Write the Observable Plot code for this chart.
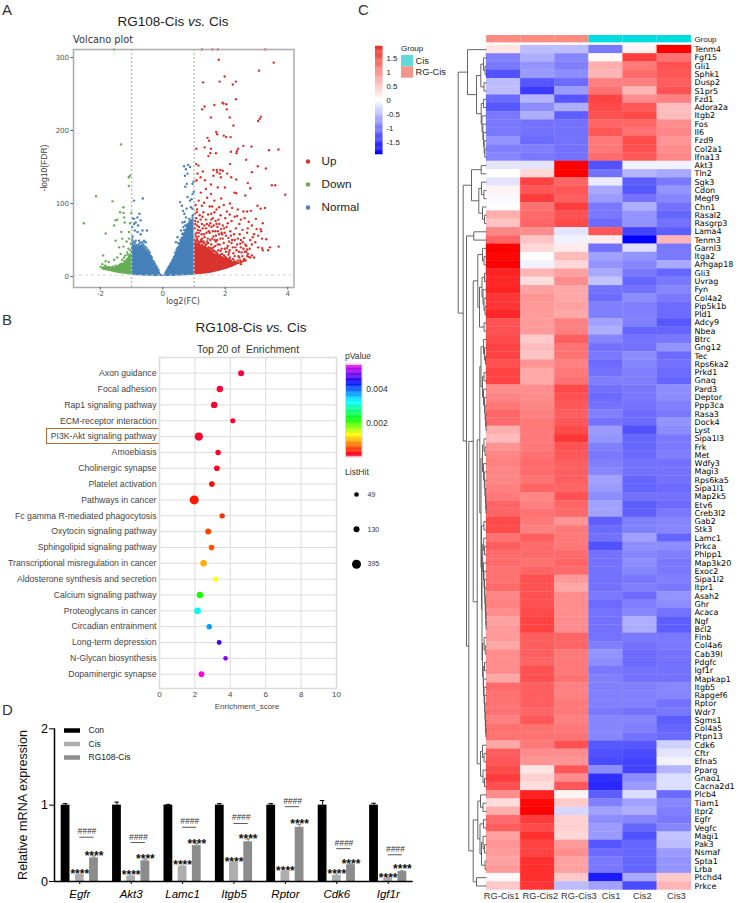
<!DOCTYPE html>
<html><head><meta charset="utf-8">
<script src="https://cdn.jsdelivr.net/npm/d3@7"></script>
<script src="https://cdn.jsdelivr.net/npm/@observablehq/plot@0.6"></script>
<style>
html,body{margin:0;padding:0;background:#fff}
#root{position:relative;width:740px;height:903px;overflow:hidden;font-family:"Liberation Sans",Arial,sans-serif}
#root svg{position:absolute;overflow:visible;background:transparent}
.t{position:absolute;white-space:pre;line-height:1}
</style></head><body><div id="root"></div>
<script>
/* ---------- A: volcano ---------- */
const upPoints=[[1.25,311],[1.59,311],[1.76,311],[3.28,311],[1.79,297],[3.55,293],[3.08,282],[1.98,274],[1.29,266],[1.82,267],[2.34,267],[2.24,263],[2.34,243],[1.94,237],[2.03,236],[1.91,238],[1.34,233],[1.26,229],[1.65,235],[2.05,229],[1.54,218],[2.14,218],[3.14,219],[3.10,216],[3.05,213],[2.26,207],[1.71,198],[1.74,195],[1.95,193],[2.17,191],[1.43,190],[1.48,186],[2.03,191],[2.84,178],[2.58,179],[2.41,175],[1.07,175],[1.34,177],[1.54,175],[2.37,172],[3.40,173],[3.70,174],[2.18,171],[2.36,169],[1.52,169],[1.70,169],[1.46,165],[2.67,160],[2.15,154],[3.04,151],[3.30,148],[1.07,154],[1.14,152],[1.28,144],[1.11,141],[2.85,143],[1.62,146],[1.73,146],[1.84,146],[1.92,145],[1.74,143],[2.06,141],[2.19,136],[2.35,133],[1.82,141],[1.62,138],[1.86,136],[1.35,132],[1.21,136],[1.01,130],[1.08,132],[1.54,126],[2.72,128],[2.80,121],[3.49,125],[3.60,125],[3.92,112],[2.29,115],[2.35,114],[2.64,111],[1.99,122],[1.76,122],[1.38,120],[1.22,115],[1.54,113],
[1.05,98],[1.1,92],[1.15,104],[1.25,97],[1.32,101],[1.42,108],[1.5,96],[1.58,96],[1.65,104],[1.72,92],[1.8,95],[1.87,107],[1.95,98],[2.05,89],[2.15,100],[2.22,94],[2.4,92],[2.58,89],[2.7,89],[2.82,90],[3.03,97],[3.13,93],[3.27,94],
[1.02,86],[1.07,80],[1.12,75],[1.18,84],[1.25,72],[1.3,88],[1.38,78],[1.45,85],[1.52,73],[1.6,80],[1.65,88],[1.72,72],[1.78,78],[1.85,84],[1.92,70],[2.0,80],[2.08,73],[2.14,85],[2.2,76],[2.3,82],[2.38,83],[2.45,72],[2.5,78],[2.62,80],[2.75,75],[2.85,70],[2.98,79],[3.2,73],[1.55,86],[1.1,70],
[1.02,66],[1.08,60],[1.14,55],[1.2,63],[1.26,52],[1.32,58],[1.38,66],[1.44,52],[1.5,60],[1.56,68],[1.62,55],[1.68,62],[1.74,50],[1.8,58],[1.86,65],[1.92,52],[1.98,60],[2.04,68],[2.1,53],[2.16,62],[2.22,50],[2.28,58],[2.34,66],[2.4,52],[2.46,58],[2.55,64],[2.6,53],[2.7,60],[2.8,50],[2.72,66],[2.92,58],[3.0,65],[3.05,56],[3.13,65],[3.15,62],[3.17,52],[3.31,51],[2.88,54],[2.5,50],
[1.05,48],[1.15,45],[1.25,48],[1.35,42],[1.45,46],[1.55,44],[1.62,40],[1.7,48],[1.78,36],[1.82,44],[1.88,38],[1.95,46],[2.02,34],[2.08,42],[2.14,36],[2.2,46],[2.26,32],[2.32,40],[2.38,44],[2.44,34],[2.5,40],[2.56,47],[2.62,34],[2.67,42],[2.72,31],[2.78,38],[2.85,44],[2.96,47],[3.05,40],[3.18,39],[3.2,36],[3.37,36],[3.43,40],[3.71,41],[2.67,34],[1.6,36],[1.72,33],[1.9,31],[2.1,30],
[1.8,28],[1.9,25],[2.0,27],[2.15,26],[2.25,24],[2.3,28],[2.4,22],[2.45,26],[2.5,20],[2.55,28],[2.6,24],[2.65,22],[2.7,28],[2.75,27],[2.8,26],[2.85,29],[2.92,26],[2.5,17],[2.35,19],[2.2,19],
[1.04,72],[1.06,55],[1.1,50],[1.12,64],[1.16,68],[1.22,50],[1.24,58],[1.28,66],[1.3,48],[1.34,54],[1.4,60],[1.42,48],[1.48,70],[1.52,50],[1.58,52],[1.6,62],[1.66,50],[1.7,56],[1.76,62],[1.84,52],[1.9,58],
[1.03,58],[1.09,52],[1.13,48],[1.19,47],[1.27,44],[1.33,46],[1.39,44],[1.47,40],[1.53,39],[1.57,38],[1.64,35],[1.69,34],[1.75,31],[1.83,30],[1.88,27],[1.96,29],[2.04,25],[2.12,24],[2.18,22],[2.28,21],[2.33,20],[2.42,19],[2.48,22],[2.57,21],[2.62,23],
[1.03,76],[1.09,88],[1.15,60],[1.21,78],[1.27,82],[1.33,70],[1.41,72],[1.47,62],[1.55,78],[1.63,70],[1.69,76],[1.75,68],[1.81,72],[1.88,60],[1.96,66],[2.02,56],[2.12,48],[2.18,56],[2.24,40],[2.3,50],[2.36,36],[2.42,28],[2.48,45],[2.52,33],[2.58,38],[2.64,44],[2.7,37],[1.68,42],[1.76,44],[1.85,35],[1.98,38],[2.05,39],[2.12,33]];
const downPoints=[[-1.56,311],[-1.34,181],[-1.05,138],[-1.09,136],[-1.09,124],[-2.14,110],[-1.61,103],[-1.26,95],[-1.37,88],[-1.26,87],[-1.01,87],[-1.51,77],[-1.46,78],[-1.24,81],[-1.05,73],[-1.56,70],[-2.53,73],[-1.83,59],[-1.33,61],[-1.22,74],[-1.08,61],[-1.51,49],[-1.30,52],[-1.16,48],[-1.40,40],[-1.26,41],[-1.08,52],[-1.91,29],[-1.83,21],[-1.73,20],[-1.35,31],[-1.14,33],[-1.03,45],[-1.56,23],[-1.46,26],[-1.24,26],[-1.10,38],[-1.99,13],[-1.89,11],[-1.78,11],[-1.94,17],[-1.62,13],[-1.51,15],[-1.35,17],[-1.19,20],[-1.08,24],[-1.03,31],
[-1.85,15],[-1.8,13],[-1.72,13],[-1.65,12],[-1.58,13],[-1.5,13],[-1.42,15],[-1.38,16],[-1.3,18],[-1.22,21],[-1.15,24],[-1.08,28],[-1.04,36],[-1.2,29],[-1.3,23],[-1.12,30]];
const normalPoints=[[-0.92,104],[-0.64,107],[-0.98,80],[-0.92,79],[-0.81,81],[-0.75,86],[-0.87,74],[-0.92,72],[-0.79,70],[-0.71,77],[-0.98,68],[-0.9,63],[-0.65,63],[-0.51,63],[-0.71,58],[-0.81,61],[-0.98,52],[-0.87,49],[-0.76,49],[-0.6,49],[-0.55,47],[0.68,151],[0.81,153],[0.74,147],[0.87,150],[0.71,138],[0.79,141],[0.77,127],[0.72,123],[0.95,127],[0.98,130],[0.95,113],[0.99,116],[0.55,102],[0.61,97],[0.79,109],[0.87,104],[0.92,106],[0.69,86],[0.76,93],[0.9,95],[0.95,93],[0.65,90],[0.74,81],[0.85,79],[0.95,81],[0.63,74],[0.9,72],[0.58,63],[0.79,68],[0.95,63],[0.47,54],[0.63,58],[0.79,58],[0.42,47],[0.58,47],
[-.97,55],[-.95,48],[-.9,46],[-.85,43],[-.78,44],[-.72,46],[-.66,47],[-.62,44],[-.57,41],[-.52,39],[-.47,36],[-.42,33],[-.38,28],[-.35,26],[-.3,21],[-.26,18],[-.22,15],[-.18,12],[-.14,9],
[.12,8],[.16,11],[.2,14],[.24,17],[.28,20],[.32,23],[.36,27],[.4,33],[.44,37],[.48,40],[.52,45],[.56,50],[.6,53],[.64,59],[.68,64],[.72,70],[.76,70],[.8,72],[.85,75],[.9,77],[.96,84],[.66,68],[.7,75],[.5,46]];
/* overplotted solid masses, read as their outline */
const normalMassX=[-1,-.92,-.8,-.65,-.55,-.45,-.39,-.33,-.25,-.17,-.1,-.05,0,.05,.1,.18,.26,.34,.42,.5,.58,.66,.74,.84,.95,1];
const normalMassTop=[52,44,41,44,38,34,31,25,18,13,7,3,1,3,7,12,18,25,33,40,47,56,65,72,78,80];
const normalMassLow=[1.6,1.4,1.1,.7,.5,.4,.3,.2,.1,.05,0,0,0,0,0,.05,.1,.2,.3,.5,.7,.9,1.1,1.4,1.6,1.7];
const downMassX=[-1.95,-1.88,-1.7,-1.56,-1.4,-1.3,-1.2,-1.1,-1];
const downMassTop=[11,14,12,11,15,17,20,26,33];
const downMassLow=[9,8.5,7,5.5,4.3,3.6,3,2.5,2.2];
const upMassX=[1,1.1,1.3,1.5,1.65,1.85,2.08,2.25,2.4,2.55];
const upMassTop=[55,46,42,38,32,28,24,20,18,20];
const upMassLow=[2.2,2.5,3.3,4.3,5.5,7.5,10.5,13,16,19];
const volcanoClasses=["Up","Down","Normal"];
const volcanoColors=["#d8332c","#66ae56","#4680b8"];

/* ---------- B: enrichment ---------- */
const pathways=["Axon guidance","Focal adhesion","Rap1 signaling pathway","ECM-receptor interaction","PI3K-Akt signaling pathway","Amoebiasis","Cholinergic synapse","Platelet activation","Pathways in cancer","Fc gamma R-mediated phagocytosis","Oxytocin signaling pathway","Sphingolipid signaling pathway","Transcriptional misregulation in cancer","Aldosterone synthesis and secretion","Calcium signaling pathway","Proteoglycans in cancer","Circadian entrainment","Long-term depression","N-Glycan biosynthesis","Dopaminergic synapse"];
const enrichScore=[4.61,3.41,3.09,4.14,2.22,3.31,3.24,2.96,1.96,3.54,2.75,2.94,2.49,3.18,2.28,2.15,2.81,3.37,3.73,2.37];
const listHit=[130,170,170,80,320,100,110,110,395,85,130,110,170,90,170,200,90,65,49,110];
const pValues=[.00002,.00003,.00006,.00005,.00007,.0001,.00012,.00025,.0003,.0004,.0005,.00055,.00095,.0013,.0021,.0032,.0037,.0047,.0050,.0055];
const hitLegend=[49,130,395];

/* ---------- C: heatmap ---------- */
const sampleNames=["RG-Cis1","RG-Cis2","RG-Cis3","Cis1","Cis2","Cis3"];
const genes=["Tenm4","Fgf15","Gli1","Sphk1","Dusp2","S1pr5","Fzd1","Adora2a","Itgb2","Fos","Il6","Fzd9","Col2a1","Ifna13","Akt3","Tln2","Sgk3","Cdon","Megf9","Chn1","Rasal2","Rasgrp3","Lama4","Tenm3","Garnl3","Itga2","Arhgap18","Gli3","Uvrag","Fyn","Col4a2","Pip5k1b","Pld1","Adcy9","Nbea","Btrc","Gng12","Tec","Rps6ka2","Prkd1","Gnaq","Pard3","Deptor","Ppp3ca","Rasa3","Dock4","Lyst","Sipa1l3","Frk","Met","Wdfy3","Magi3","Rps6ka5","Sipa1l1","Map2k5","Etv6","Creb3l2","Gab2","Stk3","Lamc1","Prkca","Phlpp1","Map3k20","Exoc2","Sipa1l2","Itpr1","Asah2","Ghr","Acaca","Ngf","Bcl2","Flnb","Col4a6","Cab39l","Pdgfc","Igf1r","Mapkap1","Itgb5","Rapgef6","Rptor","Wdr7","Sgms1","Col4a5","Ptpn13","Cdk6","Cftr","Efna5","Pparg","Gnao1","Cacna2d1","Plcb4","Tiam1","Itpr2","Egfr","Vegfc","Magi1","Pak3","Nsmaf","Spta1","Lrba","Ptchd4","Prkce"];
const heatValues=[
[.2,-.5,-.5,-1,.1,1.9],[-.95,-.6,-.9,.05,1.45,1.05],[-1,-.8,-.95,.6,1,1.3],[-1.3,-.75,-.85,.55,1.1,1.25],[-.5,-1.25,-1.1,.95,.95,1.2],[-.5,-1.45,-.75,1.05,.55,1.3],[-1.1,-.55,-1.25,1.4,.85,.95],[-1.25,-.85,-.6,1.35,1.25,.5],[-1,-.6,-1.2,1.3,1.35,.5],[-1,-1.05,-1.05,1.15,1.15,.85],[-1,-1.05,-1.05,1.25,1.05,.9],[-.8,-1.1,-1.05,1,1.35,.8],[-.95,-.95,-1.05,1,1.3,.85],[-.9,-1,-1.05,1.1,1.25,.9],
[-.2,-.2,1.9,-1.3,-.1,-.1],[0,.3,1.9,-1.05,-.55,-.65],[-.2,1.4,1.15,-.15,-1.2,-1],[.1,1.25,1.25,-.65,-1.25,-.8],[-.05,1.45,1.2,-.75,-1.05,-.9],[-.02,1.05,1.45,-1,-.6,-1.05],[.6,1.1,1.3,-1,-.8,-1.15],[.45,1.15,1.35,-1.1,-.8,-1.05],[.9,.85,-.2,1.25,-1.4,-1.2],[1.15,.45,-.1,.15,-1.9,.55],
[1.9,.3,.15,-1.05,-.25,-1],[1.85,.02,.5,-.7,-.8,-1],[1.9,-.1,.3,-.8,-.9,-.65],[1.65,.55,.7,-.65,-1,-1.15],[1.6,.25,.85,-.45,-1.15,-1],[1.65,.7,.65,-1.05,-1.05,-.9],[1.5,.8,.65,-1.1,-.85,-1],[1.5,.75,.7,-.95,-.95,-1.1],[1.6,.75,.65,-.95,-.95,-1.1],[1.3,.75,.95,-.7,-.95,-1.25],[1.3,.75,.95,-.6,-1.15,-1.15],[1.35,.4,1.2,-.9,-1.05,-1],[1.4,.5,1.05,-1.05,-1.05,-.8],[1.4,.45,1.05,-1,-.85,-1.1],[1.3,.8,.95,-1.1,-.9,-1.05],[1.4,.65,1,-1.05,-.95,-1.1],[1.4,.65,1.05,-.95,-.95,-1.15],
[.85,.85,1.35,-1.05,-1,-.85],[.9,.85,1.3,-1.1,-1,-.85],[1,.9,1.25,-1.05,-1.05,-.95],[1.15,.95,1.2,-.95,-1.1,-1],[1.1,1,1.25,-1.05,-1.1,-.8],[.6,1,1.35,-.75,-1.3,-.85],[.5,1,1.5,-.8,-1.15,-1],[.8,1,1.3,-.95,-1.15,-1],[.9,1.05,1.25,-1,-1.1,-.95],[.95,1.1,1.2,-.95,-1.05,-1.05],[.9,1.1,1.2,-.9,-1.05,-1.05],[.9,1.05,1.2,-.7,-1.15,-1.05],[.95,1.15,1.15,-.75,-1.15,-1.1],[1,.9,1.3,-.85,-1.05,-1.05],[1.15,.95,1.15,-.7,-1.2,-1.1],[1.15,1.05,1.1,-.7,-1.2,-1],[1.35,1,.8,-1.2,-.95,-.9],[1.35,.95,1,-1.1,-.95,-.9],[1.05,1.2,1,-1.05,-.7,-1.15],[1.2,1.1,1,-1.3,-.85,-.85],[1.1,1.1,1.1,-1.05,-.9,-.95],[1.1,1.05,1.15,-1.05,-.85,-1],[1.05,1.15,1.1,-1.05,-.9,-1],
[1.05,1.3,.75,-1.05,-1,-.95],[1.1,1.3,.65,-1.05,-.95,-1],[.9,1.3,.85,-1,-1.1,-.8],[.95,1.3,.85,-1.1,-.95,-.85],[.85,1.35,.85,-1.05,-.9,-1.05],[.7,1.4,.85,-1.05,-.6,-1.2],[.75,1.4,.85,-1.05,-.6,-1.2],[.75,1.2,1.15,-1.05,-1,-1],[.65,1.2,1.15,-.95,-1.05,-1],[.85,1.2,1,-.8,-1.1,-1.05],[.85,1.15,1,-.85,-1.1,-1.05],[.85,1.3,1,-1,-1.05,-1.05],[.65,1.3,1.05,-.95,-1.05,-1.05],[1.1,1.2,.95,-.95,-.95,-.9],[1.05,1.2,.95,-.95,-.95,-.9],[1.05,1.2,1,-.95,-.95,-1.05],[1.05,1.15,1,-1,-1.05,-1],[.95,1.25,.95,-.9,-.9,-1.2],[1.05,1.05,1,-.9,-.95,-1.15],[1.05,1.05,1.05,-.9,-1.05,-1.1],
[.65,1,1.3,-1.25,-1.25,-.35],[1.2,.85,.85,-1.3,-1.35,-.2],[1.25,.8,.8,-1.35,-1.4,-.1],[1.35,.2,1.25,-.85,-1.4,-.55],[1.45,.35,.85,-1.55,-.85,-.25],[1.3,.25,1.25,-1.6,-.75,-.25],
[.85,1.65,.08,-1.2,-.25,-1.1],[.25,1.85,.4,-.95,-.7,-.9],[.6,1.9,-.3,-.7,-.6,-.95],[1.1,1.45,.35,-.85,-.9,-1],[1.2,1.35,.35,-.75,-1.15,-.9],[.7,1.55,.3,-.75,-1.3,-.45],[.8,1.4,.75,-1.25,-1.15,-.5],[.75,1.4,.85,-1.1,-1.15,-.75],[.7,1.55,.7,-1,-1.15,-.8],[.75,1.55,.7,-1,-1.15,-.8],[.05,1.55,.4,-1.7,-.65,.4],[.4,1.5,-.5,-.7,-1.35,.55]];
const sampleGroups=["RG-Cis","RG-Cis","RG-Cis","Cis","Cis","Cis"];
const heatTicks=[1.5,1,.5,0,-.5,-1,-1.5];
/* row dendrogram: [merge height, left, right]; 0 is the next gene in order */
const dendroFgf=[10,[5.7,[3,0,[1.5,0,0]],[2.5,0,0]],[5.3,[3,0,0],[4.5,0,[3.6,0,[2.9,0,[2.3,0,[1.7,0,0]]]]]]];
const dendroTop=[19,0,dendroFgf];
const dendroAkt=[15,[5.3,0,0],[7.7,[5,0,[2.6,0,0]],[4,0,[2,0,0]]]];
const dendroGarnl=[8.7,[4,0,[2.5,0,0]],[7,[4.5,[2,0,0],[3.5,0,[2.5,0,[1.5,0,0]]]],[2.5,0,0]]];
const dendroBtrc=[5.5,[3,0,[2,0,[1,0,0]]],[4,[2.5,0,0],[3,0,[2,0,[1.4,0,[.8,0,[.5,0,0]]]]]]];
const dendroSipa=[4,[2.5,0,[1.5,0,0]],[3,0,[2.2,0,[1.6,0,[1.1,0,[.7,0,[.4,0,0]]]]]]];
const dendroMid=[3.8,[2.8,0,[2,0,0]],[3,0,[2.5,0,[2,0,[1.6,0,[1.2,0,[.9,0,[.6,0,[.4,0,0]]]]]]]]];
const dendroLow=[4,[2.4,0,[1.2,0,0]],[3.2,[2,0,0],[3,0,[2.4,0,[1.9,0,[1.5,0,[1.2,0,[.9,0,[.6,0,0]]]]]]]]];
const dendroCore=[6.7,dendroBtrc,[5.5,dendroSipa,[5,[2.6,0,0],[4.5,dendroMid,dendroLow]]]];
const dendroCdk=[6,[4,0,[2.5,0,0]],[3.5,0,[2,0,0]]];
const dendroPlcb=[8.7,[6,0,[3.5,0,0]],[6.5,[3,0,0],[5,[3.5,0,[2,0,0]],[1.5,0,0]]]];
const dendroRest=[23.3,dendroAkt,[20,[12.7,0,0],[17.7,[13.3,dendroGarnl,[9.3,dendroCore,dendroCdk]],[13.3,dendroPlcb,[10,0,0]]]]];
const dendroRoot=[28.3,dendroTop,dendroRest];

/* ---------- D: qPCR ---------- */
const qGenes=["Egfr","Akt3","Lamc1","Itgb5","Rptor","Cdk6","Igf1r"];
const qSeries=["Con","Cis","RG108-Cis"];
const qColors=["#000000","#adadad","#8c8c8c"];
const conValues=[1,1,1,1,1,1,1];
const cisValues=[.09,.07,.2,.25,.13,.08,.04];
const rgValues=[.31,.27,.47,.52,.71,.22,.13];
const conErr=[.02,.04,.01,.02,.02,.06,.025];
const cisErr=[.005,.01,.005,.005,.005,.02,.015];
const rgErr=[.025,.02,.025,.035,.035,.01,.01];
const starCis=[.13,.12,.25,.29,.17,.14,.078];
const starRg=[.37,.33,.53,.6,.79,.265,.205];
const hashLine=[.58,.51,.71,.76,.98,.43,.35];

/* ---------- helpers ---------- */
const FONT='"Liberation Sans",Arial,sans-serif';
const root=document.getElementById("root");
function place(el,left=0,top=0){el.style.left=left+"px";el.style.top=top+"px";root.appendChild(el);return el}
function text(html,x,y,{size=10,anchor="middle",rotate=0,color="#222",font=FONT,weight=400}={}){
  const d=document.createElement("div");d.className="t";d.innerHTML=html;
  const tx=anchor==="middle"?"-50%":anchor==="end"?"-100%":"0";
  d.style.cssText+=`left:${x}px;top:${y}px;font-size:${size}px;color:${color};font-family:${font};font-weight:${weight};transform:translate(${tx},-50%) rotate(${rotate}deg);`;
  root.appendChild(d);
}
const base={style:{fontFamily:FONT,background:"transparent"}};
const pts=a=>a.map(([x,y])=>({x,y}));
const mass=(xs,top,low)=>xs.map((x,i)=>({x,top:top[i],low:low[i]}));

/* panel letters and titles */
text("A",2,9,{size:15,anchor:"start",color:"#333"});
text("B",2,319,{size:15,anchor:"start",color:"#333"});
text("C",358,9,{size:15,anchor:"start",color:"#333"});
text("D",2,709,{size:15,anchor:"start",color:"#333"});
text("RG108-Cis <i>vs.</i> Cis",173,22,{size:13.5});
text("RG108-Cis <i>vs.</i> Cis",251,327.5,{size:13.5});

/* ---------- A ---------- */
text("Volcano plot",73,40,{size:9.8,anchor:"start",font:'"DejaVu Sans"',color:"#333"});
text("log2(FC)",183,301.5,{size:8,font:'"DejaVu Sans"',color:"#444"});
text("-log10(FDR)",44,168,{size:8.5,rotate:-90,color:"#444"});
place(Plot.plot({...base,width:300,height:300,marginLeft:73,marginRight:6.5,marginTop:49,marginBottom:13,
  x:{domain:[-2.86,4.2]},y:{domain:[-15,311]},
  marks:[
    Plot.areaY(mass(normalMassX,normalMassTop,normalMassLow),{x:"x",y1:"low",y2:"top",fill:volcanoColors[2]}),
    Plot.dot(pts(normalPoints),{x:"x",y:"y",r:1.2,fill:volcanoColors[2]}),
    Plot.areaY(mass(downMassX,downMassTop,downMassLow),{x:"x",y1:"low",y2:"top",fill:volcanoColors[1]}),
    Plot.dot(pts(downPoints),{x:"x",y:"y",r:1.2,fill:volcanoColors[1]}),
    Plot.areaY(mass(upMassX,upMassTop,upMassLow),{x:"x",y1:"low",y2:"top",fill:volcanoColors[0]}),
    Plot.dot(pts(upPoints),{x:"x",y:"y",r:1.2,fill:volcanoColors[0]}),
    Plot.ruleY([2],{stroke:"#cfcfcf",strokeWidth:1,strokeDasharray:"3,3"}),
    Plot.ruleX([-1,1],{stroke:"#bdbdbd",strokeWidth:1.4,strokeDasharray:"2,2"}),
    Plot.frame({stroke:"#ababab",strokeWidth:1.5}),
    Plot.axisX({ticks:[-2,0,2,4],tickFormat:d=>d,tickSize:2.5,fontSize:7,label:null,color:"#555",fontFamily:'"DejaVu Sans"',tickPadding:1}),
    Plot.axisY({ticks:[0,100,200,300],tickSize:2.5,fontSize:7,label:null,color:"#555",fontFamily:'"DejaVu Sans"',tickPadding:2})
  ]}),0,0);
place(Plot.plot({...base,width:70,height:70,marginLeft:0,marginRight:63,marginTop:0,marginBottom:0,
  x:{domain:[0,1],axis:null},y:{type:"point",domain:volcanoClasses,range:[11,57],padding:0,round:false,axis:null},
  color:{domain:volcanoClasses,range:volcanoColors},
  marks:[
    Plot.dot(volcanoClasses,{x:.5,y:d=>d,r:2.2,fill:d=>d}),
    Plot.axisY({anchor:"right",tickSize:0,tickPadding:10,fontSize:11.7,label:null,color:"#222"})
  ]}),303.5,150);

/* ---------- B ---------- */
const pathwayRows=pathways.map((p,i)=>({p,score:enrichScore[i],hit:listHit[i],pv:pValues[i]}));
const pColor={type:"linear",domain:[0,.0002,.0013,.0022,.00325,.0044,.0055],range:["#ff0040","#ff0000","#ffff00","#00ff00","#00ffff","#0000ff","#ff00e0"],interpolate:"rgb"};
const hitR={type:"linear",domain:[49,130,395],range:[2.3,3,4.5]};
text("Top 20 of  Enrichment",248,349,{size:10.5,color:"#333"});
text("Enrichment_score",247,707,{size:8,color:"#444"});
const highlight=document.createElement("div");
highlight.style.cssText="position:absolute;left:45.5px;top:427.5px;width:112px;height:14px;border:1.3px solid #b36a30;";
root.appendChild(highlight);
place(Plot.plot({...base,width:345,height:705,marginLeft:159,marginRight:9,marginTop:357,marginBottom:17,
  x:{domain:[0,10]},
  y:{type:"point",domain:pathways,range:[372.7,673.7],padding:0,round:false},
  r:hitR,color:pColor,
  marks:[
    Plot.gridX({ticks:[2,4,6,8],stroke:"#dcdcdc",strokeOpacity:1,strokeWidth:1}),
    Plot.gridY({stroke:"#dcdcdc",strokeOpacity:1,strokeWidth:1}),
    Plot.frame({stroke:"#dcdcdc",strokeWidth:1.5}),
    Plot.dot(pathwayRows,{x:"score",y:"p",r:"hit",fill:"pv"}),
    Plot.axisX({ticks:[0,2,4,6,8,10],tickSize:0,tickPadding:3,fontSize:8,label:null,color:"#444"}),
    Plot.axisY({tickSize:0,tickPadding:3,fontSize:8.7,label:null,color:"#444"})
  ]}),0,0);
text("pValue",345,356,{size:8.6,anchor:"start",color:"#333"});
text("ListHit",345,472,{size:8.6,anchor:"start",color:"#333"});
const pRampStep=.00005;
place(Plot.plot({...base,width:50,height:92.5,marginLeft:0,marginRight:33.3,marginTop:0,marginBottom:0,
  x:{domain:[0,1],axis:null},y:{domain:[0,.0055],axis:null},color:pColor,
  marks:[
    Plot.rect(d3.range(0,.0055,pRampStep),{x1:0,x2:1,y1:d=>d,y2:d=>d+pRampStep*1.2,fill:d=>d}),
    Plot.frame({stroke:"#d8d8d8",strokeWidth:1}),
    Plot.axisY({anchor:"right",ticks:[.002,.004],tickSize:0,tickPadding:4,fontSize:8.6,label:null,color:"#333",tickFormat:d3.format(".3f")})
  ]}),345,364.3);
place(Plot.plot({...base,width:40,height:90,marginLeft:0,marginRight:24,marginTop:0,marginBottom:0,
  x:{domain:[0,1],axis:null},y:{type:"point",domain:hitLegend,range:[10,79.7],padding:0,round:false,axis:null},r:hitR,
  marks:[
    Plot.dot(hitLegend,{x:.5,y:d=>d,r:d=>d,fill:"#000"}),
    Plot.axisY({anchor:"right",tickSize:0,tickPadding:3,fontSize:7,label:null,color:"#333"})
  ]}),347.7,484);

/* ---------- C ---------- */
const heatCells=genes.flatMap((g,i)=>sampleNames.map((s,j)=>({g,s,v:heatValues[i][j]})));
const heatColor={type:"linear",domain:[-1.9,0,1.9],range:["#0000ff","#ffffff","#ff0000"],interpolate:"rgb"};
place(Plot.plot({...base,width:254,height:844.6,marginLeft:0,marginRight:49,marginTop:0,marginBottom:0,
  x:{type:"band",domain:sampleNames,padding:0,round:false,axis:null},
  y:{type:"band",domain:genes,padding:0,round:false},
  color:heatColor,
  marks:[
    Plot.cell(heatCells,{x:"s",y:"g",fill:"v",stroke:"v",strokeWidth:.3}),
    Plot.axisY({anchor:"right",tickSize:0,tickPadding:3,fontSize:8,fontFamily:'"DejaVu Sans"',label:null,color:"#000"})
  ]}),486,45.2);
const groupColors=["#fb8a80","#00dce0"];
place(Plot.plot({...base,width:254,height:7.4,marginLeft:0,marginRight:49,marginTop:0,marginBottom:0,
  x:{type:"band",domain:sampleNames,padding:0,round:false,axis:null},
  y:{type:"band",domain:["Group"],padding:0,round:false},
  color:{domain:["RG-Cis","Cis"],range:groupColors},
  marks:[
    Plot.cell(sampleNames,{x:d=>d,y:()=>"Group",fill:(d,i)=>sampleGroups[i]}),
    Plot.axisY({anchor:"right",tickSize:0,tickPadding:3,fontSize:8,label:null,color:"#222"})
  ]}),486,35.3);
const labelShift=[-2,2.5,7,5,2,2];
place(Plot.plot({...base,width:205,height:12,margin:0,
  x:{type:"band",domain:sampleNames,padding:0,round:false,axis:null},y:{axis:null},
  marks:sampleNames.map((s,i)=>Plot.text([s],{x:d=>d,frameAnchor:"middle",text:d=>d,dx:labelShift[i],fontSize:9.3,fill:"#333"}))
}),486,890);
/* dendrogram built from the nested merges */
const dendroSegs=[];let leafRow=0;
(function walk(n){
  if(n===0){const y=leafRow+.5;leafRow+=1;return {h:0,y}}
  const a=walk(n[1]),b=walk(n[2]),h=n[0];
  dendroSegs.push({x1:h,x2:h,y1:a.y,y2:b.y},{x1:a.h,x2:h,y1:a.y,y2:a.y},{x1:b.h,x2:h,y1:b.y,y2:b.y});
  return {h,y:(a.y+b.y)/2};
})(dendroRoot);
place(Plot.plot({...base,width:30,height:844.6,margin:0,
  x:{domain:[30,0],axis:null},y:{domain:[0,genes.length],reverse:true,axis:null},
  marks:[Plot.link(dendroSegs,{x1:"x1",x2:"x2",y1:"y1",y2:"y2",stroke:"#555",strokeWidth:.9})]
}),456,45.2);
/* heat legend */
const heatRampStep=.04;
place(Plot.plot({...base,width:40,height:108.3,marginLeft:0,marginRight:32.5,marginTop:0,marginBottom:0,
  x:{domain:[0,1],axis:null},y:{domain:[-1.92,1.92],axis:null},
  color:{type:"linear",domain:[-1.92,0,1.92],range:["#0000ff","#ffffff","#ec2a20"],interpolate:"rgb"},
  marks:[
    Plot.rect(d3.range(-1.92,1.92,heatRampStep),{x1:0,x2:1,y1:d=>d,y2:d=>d+heatRampStep*1.2,fill:d=>d}),
    Plot.axisY({anchor:"right",ticks:heatTicks,tickSize:0,tickPadding:3.5,fontSize:7.8,label:null,color:"#222",tickFormat:d=>d})
  ]}),375,45.7);
text("Group",401,49,{size:8,anchor:"start",color:"#222"});
place(Plot.plot({...base,width:50,height:22.7,marginLeft:0,marginRight:38,marginTop:0,marginBottom:0,
  x:{domain:[0,1],axis:null},y:{type:"band",domain:["Cis","RG-Cis"],padding:0,round:false},
  color:{domain:["Cis","RG-Cis"],range:["#5fd9d9","#f4958c"]},
  marks:[
    Plot.cell(["Cis","RG-Cis"],{y:d=>d,fill:d=>d}),
    Plot.axisY({anchor:"right",tickSize:0,tickPadding:2,fontSize:9.3,label:null,color:"#222"})
  ]}),400.7,55);

/* ---------- D ---------- */
text("Relative mRNA expression",22.7,805,{size:12.6,rotate:-90,color:"#111"});
const groupStep=3.62,barHalf=.31;
const qValues=[conValues,cisValues,rgValues],qErrs=[conErr,cisErr,rgErr];
const bars=qGenes.flatMap((g,i)=>qSeries.map((s,k)=>({s,xc:i*groupStep+k-1,v:qValues[k][i],e:qErrs[k][i]})));
const qCenters=qGenes.map((g,i)=>i*groupStep);
const starMarks=(vals,k)=>Plot.text(vals.map((v,i)=>({x:i*groupStep+k,y:v})),{x:"x",y:"y",text:()=>"****",fontSize:12,fontWeight:"bold",dy:3,fill:"#111"});
place(Plot.plot({...base,width:420,height:903,marginLeft:54,marginRight:7.3,marginTop:728.3,marginBottom:22,
  x:{domain:[-1.78,23.48]},y:{domain:[0,2]},
  color:{domain:qSeries,range:qColors},
  marks:[
    Plot.rect(bars,{x1:d=>d.xc-barHalf,x2:d=>d.xc+barHalf,y1:0,y2:"v",fill:"s"}),
    Plot.ruleX(bars,{x:"xc",y1:"v",y2:d=>d.v+d.e,stroke:"s",strokeWidth:1}),
    Plot.ruleY(bars,{y:d=>d.v+d.e,x1:d=>d.xc-.16,x2:d=>d.xc+.16,stroke:"s",strokeWidth:1}),
    starMarks(starCis,0),starMarks(starRg,1),
    Plot.ruleY(hashLine.map((v,i)=>({v,i})),{y:"v",x1:d=>d.i*groupStep,x2:d=>d.i*groupStep+1,stroke:"#444",strokeWidth:.9}),
    Plot.text(hashLine.map((v,i)=>({v,i})),{x:d=>d.i*groupStep+.5,y:d=>d.v+.075,text:()=>"####",fontSize:8.4,fontStyle:"italic",fill:"#333"}),
    Plot.ruleX([-1.78],{y1:0,y2:2,stroke:"#000",strokeWidth:1.5}),
    Plot.ruleY([0],{stroke:"#000",strokeWidth:1.5}),
    Plot.axisY({ticks:[0,1,2],tickSize:5,tickPadding:1.5,fontSize:12.5,label:null,color:"#000",tickFormat:d=>d}),
    Plot.axisX({ticks:qCenters,tickFormat:(d,i)=>qGenes[i],tickSize:3,tickPadding:5.5,fontSize:11.5,fontStyle:"italic",label:null,color:"#000"})
  ]}),0,0);
place(Plot.plot({...base,width:70,height:42,marginLeft:0,marginRight:54,marginTop:0,marginBottom:0,
  x:{domain:[0,1],axis:null},y:{type:"point",domain:qSeries,range:[8,35],padding:0,round:false},
  color:{domain:qSeries,range:qColors},
  marks:[
    Plot.ruleY(qSeries,{y:d=>d,stroke:d=>d,strokeWidth:4.5}),
    Plot.axisY({anchor:"right",tickSize:0,tickPadding:8,fontSize:8.5,label:null,color:"#222"})
  ]}),64,722);
</script></body></html>
